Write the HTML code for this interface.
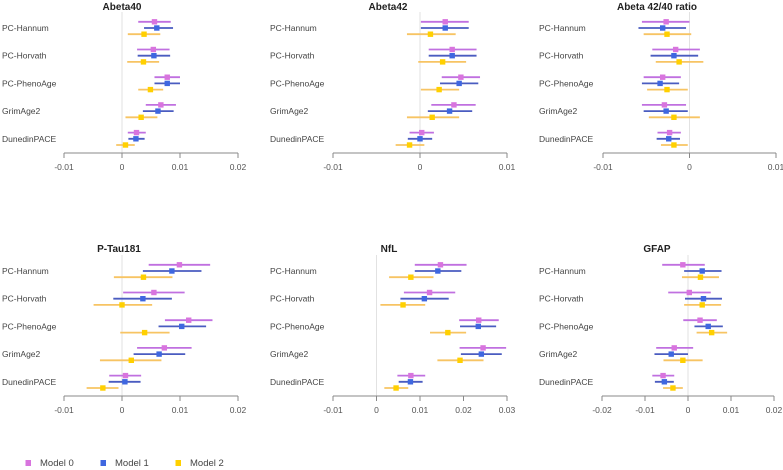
<!DOCTYPE html>
<html><head><meta charset="utf-8"><style>
body{margin:0;background:#fff;width:783px;height:470px;overflow:hidden;font-family:"Liberation Sans",sans-serif}
svg{display:block}
</style></head><body>
<svg id="chart" width="783" height="470"></svg>
<script>
const clocks = ["PC-Hannum","PC-Horvath","PC-PhenoAge","GrimAge2","DunedinPACE"];
const models = ["Model 0","Model 1","Model 2"];
const titles = ["Abeta40","Abeta42","Abeta 42/40 ratio","P-Tau181","NfL","GFAP"];
const ticks = [[-0.01,0,0.01,0.02],[-0.01,0,0.01],[-0.01,0,0.01],[-0.01,0,0.01,0.02],[-0.01,0,0.01,0.02,0.03],[-0.02,-0.01,0,0.01,0.02]];
const tickLabels = [["-0.01","0","0.01","0.02"],["-0.01","0","0.01"],["-0.01","0","0.01"],["-0.01","0","0.01","0.02"],["-0.01","0","0.01","0.02","0.03"],["-0.02","-0.01","0","0.01","0.02"]];
// estimates [panel][clock][model]
const est = [
 [[.0056,.006,.0038],[.0054,.0055,.0037],[.0078,.0078,.0049],[.0067,.0062,.0033],[.0025,.0024,.0006]],
 [[.0029,.0029,.0012],[.0037,.0037,.0026],[.0047,.0045,.0022],[.0039,.0034,.0014],[.0002,0,-.0012]],
 [[-.0027,-.0031,-.0026],[-.0016,-.0018,-.0012],[-.0031,-.0034,-.0026],[-.0029,-.0027,-.0018],[-.0023,-.0024,-.0018]],
 [[.0099,.0086,.0037],[.0055,.0036,0],[.0115,.0103,.0039],[.0073,.0064,.0016],[.0006,.0005,-.0033]],
 [[.0147,.0141,.0079],[.0122,.011,.0061],[.0235,.0234,.0164],[.0245,.0241,.0192],[.0079,.0078,.0045]],
 [[-.0012,.0033,.0029],[.0003,.0036,.0033],[.0028,.0047,.0055],[-.0032,-.0039,-.0012],[-.0058,-.0055,-.0035]]
];
const lo = [
 [[.0028,.0038,.001],[.0026,.0027,.0009],[.0056,.0056,.0028],[.0041,.0036,.0006],[.001,.0011,-.001]],
 [[.0001,.0001,-.0015],[.001,.001,-.0002],[.0025,.0023,.0001],[.0013,.0009,-.0015],[-.0012,-.0014,-.0028]],
 [[-.0055,-.0059,-.0053],[-.0043,-.0045,-.0039],[-.0053,-.0055,-.0049],[-.0055,-.0053,-.0047],[-.0037,-.0038,-.0033]],
 [[.0046,.0036,-.0014],[.0002,-.0015,-.0049],[.0074,.0063,-.0003],[.0026,.002,-.0038],[-.0022,-.0023,-.0061]],
 [[.0088,.0088,.0029],[.0063,.0055,.0009],[.019,.0192,.0123],[.0191,.0194,.014],[.0048,.0051,.0018]],
 [[-.006,-.0009,-.0014],[-.0046,-.0007,-.0009],[-.0011,.0015,.002],[-.0074,-.0078,-.0057],[-.0083,-.0077,-.0058]]
];
const hi = [
 [[.0084,.0088,.0066],[.0082,.0083,.0064],[.01,.01,.0071],[.0093,.0089,.0061],[.0041,.0039,.0022]],
 [[.0056,.0056,.0041],[.0065,.0065,.0053],[.0069,.0067,.0045],[.0064,.006,.0045],[.0016,.0014,.0005]],
 [[0,-.0004,.0002],[.0012,.001,.0016],[-.001,-.0012,-.0002],[-.0004,-.0002,.0012],[-.001,-.0011,-.0002]],
 [[.0152,.0137,.0087],[.0108,.0086,.0052],[.0156,.0145,.0082],[.012,.0109,.0068],[.0033,.0032,-.0006]],
 [[.0207,.0195,.0131],[.0181,.0166,.0112],[.0281,.0275,.0206],[.0298,.0288,.0246],[.0112,.0106,.0073]],
 [[.0039,.0078,.0072],[.0053,.0079,.0077],[.0067,.0081,.0091],[.0012,0,.0034],[-.0032,-.0033,-.0012]]
];
const NS="http://www.w3.org/2000/svg";
const svg=document.getElementById('chart');
function el(t,a,p){const e=document.createElementNS(NS,t);for(const k in a)e.setAttribute(k,a[k]);(p||svg).appendChild(e);return e;}
const panels=[
 {x0:64,x1:238,lab:2,ty:153,row0:28,tx:122},
 {x0:333,x1:507,lab:270,ty:153,row0:28,tx:388},
 {x0:603,x1:776,lab:539,ty:153,row0:28,tx:657},
 {x0:64,x1:238,lab:2,ty:396,row0:271,tx:119},
 {x0:333,x1:507,lab:270,ty:396,row0:271,tx:389},
 {x0:602,x1:774,lab:539,ty:396,row0:271,tx:657}
];
const lineCol=["#c070e0","#4a5cc0","#f7c463"],ptCol=["#d874de","#3f67e0","#ffd000"];
panels.forEach((P,pi)=>{
 const t=ticks[pi],d0=t[0],d1=t[t.length-1];
 const sx=v=>P.x0+(v-d0)/(d1-d0)*(P.x1-P.x0);
 const g=el('g',{});
 
 
 const tt=el('text',{x:P.tx,y:Math.max(10,P.ty-144),'text-anchor':'middle','font-size':'10','font-weight':'bold',fill:'#222'},g);
 tt.textContent=titles[pi];
 
 
 const zl=el('line',{x1:sx(0),x2:sx(0),y1:P.ty-141,y2:P.ty,stroke:'#e2e2e2','stroke-width':1},g);
 
 
 const ax=el('line',{x1:P.x0,x2:P.x1,y1:P.ty,y2:P.ty,stroke:'#888','stroke-width':1},g);
 
 
 t.forEach((v,i)=>{
  el('line',{x1:sx(v),x2:sx(v),y1:P.ty,y2:P.ty+5,stroke:'#888'},g);
  const tl=el('text',{x:sx(v),y:P.ty+17,'text-anchor':'middle','font-size':'8.5',fill:'#555'},g);
  tl.textContent=tickLabels[pi][i];
  
  
 });
 clocks.forEach((c,ci)=>{
  const yc=P.row0+ci*27.7;
  const lb=el('text',{x:P.lab,y:yc+3,'font-size':'8.5',fill:'#444'},g);
  lb.textContent=c;
  
  
  for(let m=0;m<3;m++){
   const y=yc+(m-1)*6.2;
   const ln=el('line',{x1:sx(lo[pi][ci][m]),x2:sx(hi[pi][ci][m]),y1:y,y2:y,stroke:lineCol[m],'stroke-width':1.8},g);
   
   
   const r=el('rect',{x:sx(est[pi][ci][m])-2.7,y:y-2.7,width:5.4,height:5.4,fill:ptCol[m]},g);
   
   
  }
 });
});
const lx=[28,103,178];
models.forEach((m,i)=>{
 const r=el('rect',{x:lx[i]-2.5,y:460,width:5.5,height:6,fill:ptCol[i]});
 
 
 const t=el('text',{x:lx[i]+12,y:466,'font-size':'9.5',fill:'#444'});
 t.textContent=m;
 
 
});
</script>
</body></html>
